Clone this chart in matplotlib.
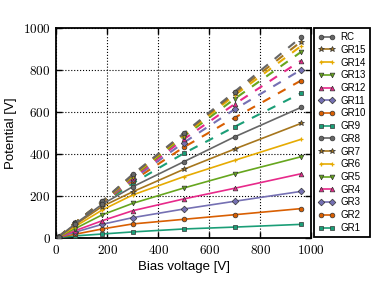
import matplotlib
matplotlib.use("Agg")
import matplotlib.pyplot as plt
from matplotlib.lines import Line2D
from matplotlib.ticker import FuncFormatter

plt.rcParams["mathtext.fontset"] = "cm"

# bias voltage points [V]
bias = [10, 75, 180, 300, 500, 700, 960]

# potentials [V]
gr1 = [3, 10, 19, 29, 43, 52, 65]
gr2 = [4, 18, 43, 67, 89, 111, 140]
gr3 = [4, 28, 65, 97, 138, 175, 222]
gr4 = [5, 35, 82, 130, 186, 237, 306]
gr5 = [5, 45, 110, 165, 238, 306, 387]
gr6 = [5, 55, 133, 205, 292, 370, 470]
gr7 = [5, 63, 150, 220, 327, 424, 546]
gr8 = [5, 68, 160, 244, 363, 482, 622]
gr9 = [5, 70, 163, 260, 403, 530, 690]
gr10 = [5, 71, 166, 272, 432, 573, 750]
gr11 = [5, 72, 168, 280, 454, 613, 801]
gr12 = [5, 72, 170, 287, 470, 638, 845]
gr13 = [5, 73, 171, 292, 483, 663, 886]
gr14 = [5, 73, 172, 297, 490, 680, 914]
gr15 = [5, 73, 173, 300, 495, 690, 935]
rc = [5, 73, 174, 303, 498, 697, 956]

labels = ["GR1", "GR2", "GR3", "GR4", "GR5", "GR6", "GR7", "GR8",
          "GR9", "GR10", "GR11", "GR12", "GR13", "GR14", "GR15", "RC"]
series = [gr1, gr2, gr3, gr4, gr5, gr6, gr7, gr8,
          gr9, gr10, gr11, gr12, gr13, gr14, gr15, rc]

# Dark2 cycle, repeated for the outer rings
COLORS = ["#1b9e77", "#d95f02", "#7570b3", "#e7298a",
          "#66a61e", "#e6ab02", "#a6761d", "#666666"]
MARKERS = ["s", "o", "D", "^", "v", "+", "*", "o"]

fig = plt.figure(figsize=(3.74, 2.81), dpi=100)
ax = fig.add_axes([0.150, 0.153, 0.682, 0.747])

handles = []
for i, (lab, y) in enumerate(zip(labels, series)):
    c = COLORS[i % 8]
    m = MARKERS[i % 8]
    mkw = dict(marker=m, markersize=3.4 if m != "*" else 4.2,
               markerfacecolor=c, markeredgecolor="#333333" if m != "+" else c,
               markeredgewidth=0.5 if m != "+" else 0.9)
    if i < 8:
        ax.plot(bias, y, color=c, lw=1.2, zorder=3, **mkw)
    else:
        ax.plot(bias, y, color=c, lw=1.5, dashes=(4.2, 4.2), zorder=2, **mkw)
    handles.append(Line2D([0, 1], [0, 0], color=c, lw=1.2, **mkw))

ax.set_xlim(0, 1000)
ax.set_ylim(0, 1000)
ax.set_xticks([0, 200, 400, 600, 800, 1000])
ax.set_yticks([0, 200, 400, 600, 800, 1000])
fmt = FuncFormatter(lambda v, p: r"$%d$" % v)
ax.xaxis.set_major_formatter(fmt)
ax.yaxis.set_major_formatter(fmt)
ax.tick_params(direction="in", top=True, right=True, length=4, width=1,
               labelsize=9.5, pad=4)
ax.grid(True, color="black", linestyle=":", lw=0.8)
for s in ax.spines.values():
    s.set_linewidth(1.3)

ax.set_xlabel("Bias voltage [V]", family="Liberation Sans", fontsize=9.5, labelpad=3)
ax.set_ylabel("Potential [V]", family="Liberation Sans", fontsize=9.5, labelpad=4)

leg = fig.legend(handles[::-1], labels[::-1], loc="upper left",
                 bbox_to_anchor=(0.8396, 0.9014), borderaxespad=0,
                 prop={"family": "Liberation Sans", "size": 7},
                 numpoints=2, handlelength=1.7, handletextpad=0.6,
                 labelspacing=0.28, borderpad=0.45, fancybox=False,
                 framealpha=1, edgecolor="black")
leg.get_frame().set_linewidth(1.3)

fig.savefig("out.png", dpi=100)
